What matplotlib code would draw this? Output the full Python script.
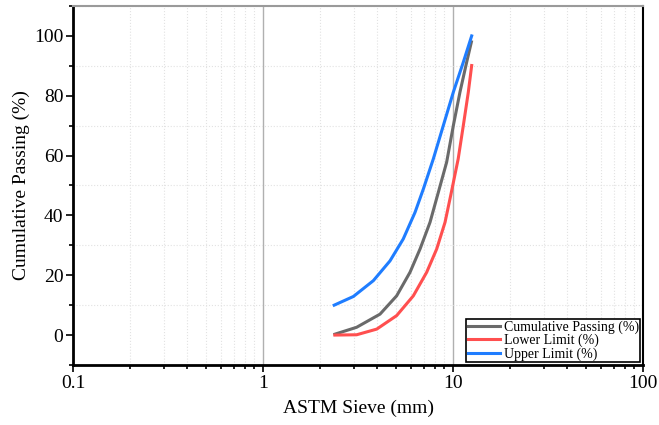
import numpy as np
import matplotlib.pyplot as plt
from matplotlib.ticker import LogLocator, MultipleLocator, FixedFormatter, FixedLocator

plt.rcParams['font.family'] = ['Liberation Serif', 'DejaVu Serif']

# Sieve sizes (mm) and passing (%)
cum_size = [2.39, 3.11, 4.13, 5.05, 5.94, 6.71, 7.57, 8.37, 9.26, 10.04, 10.88, 11.8, 12.5]
cum_pass = [0.3, 2.6, 7.0, 13.1, 21.0, 28.8, 37.7, 47.7, 57.8, 70.0, 81.2, 91.2, 98.0]

low_size = [2.39, 3.11, 3.97, 5.05, 6.18, 7.27, 8.21, 9.08, 9.72, 10.65, 11.33, 12.04, 12.54]
low_pass = [0.0, 0.1, 2.0, 6.5, 13.1, 21.0, 28.8, 37.7, 46.6, 58.9, 70.0, 81.2, 90.1]

up_size = [2.37, 2.99, 3.81, 4.66, 5.47, 6.31, 6.98, 7.88, 8.89, 10.04, 11.33, 12.54]
up_pass = [10.0, 12.9, 18.2, 24.8, 32.1, 41.0, 48.8, 58.9, 70.0, 81.2, 91.2, 100.0]

fig = plt.figure(figsize=(6.59, 4.25), dpi=100)
ax = fig.add_axes([0.1108, 0.1412, 0.8649, 0.8447])

ax.plot(cum_size, cum_pass, color='#6a6a6a', lw=2.2, label='Cumulative Passing (%)')
ax.plot(low_size, low_pass, color='#ff4f4f', lw=2.2, label='Lower Limit (%)')
ax.plot(up_size, up_pass, color='#1f7dff', lw=2.2, label='Upper Limit (%)')

ax.set_xscale('log')
ax.set_xlim(0.1, 100)
ax.set_ylim(-10, 110)
ax.xaxis.set_major_locator(FixedLocator([0.1, 1, 10, 100]))
ax.xaxis.set_major_formatter(FixedFormatter(['0.1', '1', '10', '100']))
ax.xaxis.set_minor_locator(LogLocator(base=10, subs=np.arange(2, 10)))
ax.xaxis.set_minor_formatter(plt.NullFormatter())
ax.yaxis.set_major_locator(MultipleLocator(20))
ax.yaxis.set_minor_locator(MultipleLocator(20, offset=10))

ax.grid(True, which='major', axis='x', color='#b0b0b0', lw=1.0, ls='-')
ax.grid(True, which='minor', axis='x', color='#e2e2e2', lw=0.8, ls=':')
ax.grid(True, which='minor', axis='y', color='#e2e2e2', lw=0.8, ls=':')
ax.set_axisbelow(True)

ax.tick_params(which='major', direction='out', length=5, width=1.2, labelsize=14, colors='black', pad=2)
ax.tick_params(which='minor', direction='out', length=3, width=1.2)

for s in ['left', 'bottom']:
    ax.spines[s].set_linewidth(2)
ax.spines['right'].set_linewidth(1.5)
ax.spines['top'].set_color('#9a9a9a')
ax.spines['top'].set_linewidth(1.5)

ax.set_xlabel('ASTM Sieve (mm)', fontsize=14, labelpad=6)
ax.set_ylabel('Cumulative Passing (%)', fontsize=14, labelpad=3)

leg = ax.legend(loc='lower right', fontsize=10, frameon=True, fancybox=False,
                edgecolor='black', framealpha=1, borderpad=0.1, labelspacing=0.0,
                handlelength=2.3, handletextpad=0.3, borderaxespad=0.2)
leg.get_frame().set_linewidth(1.2)

fig.savefig('out.png', dpi=100)
